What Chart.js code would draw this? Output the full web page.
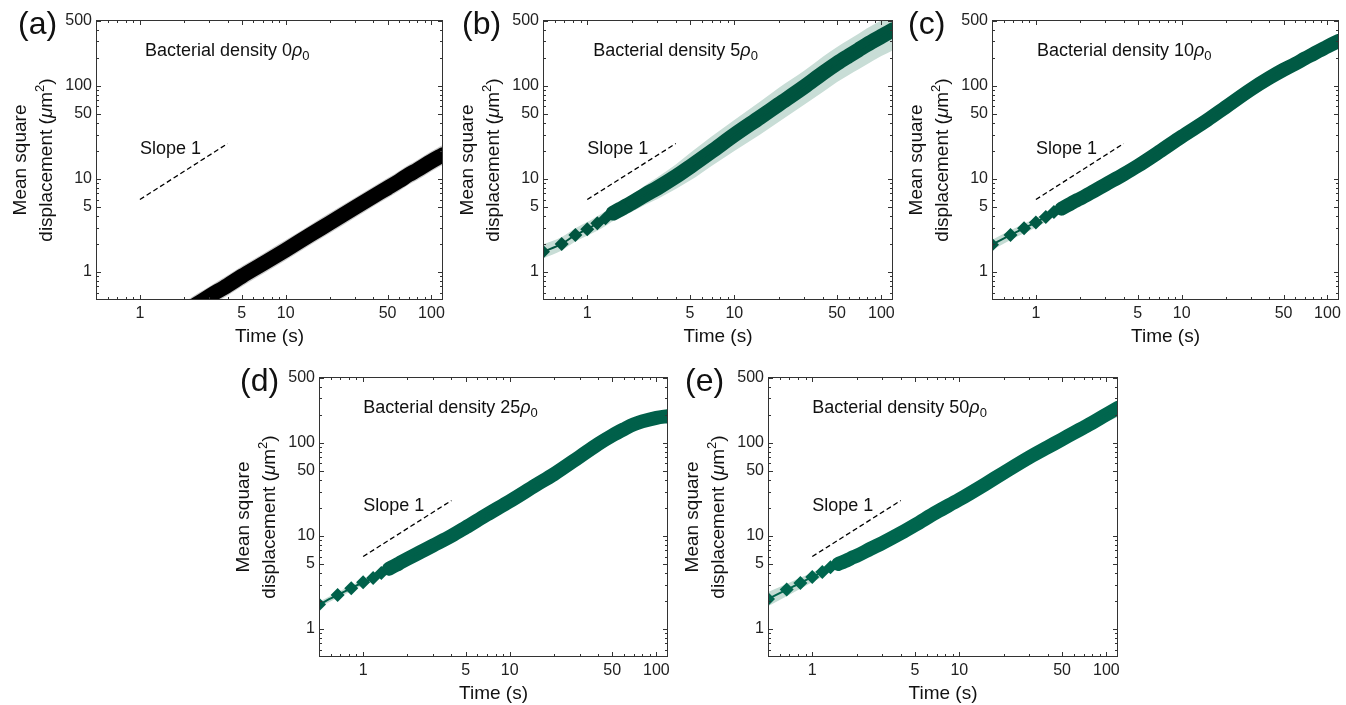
<!DOCTYPE html>
<html><head><meta charset="utf-8">
<script src="https://cdn.jsdelivr.net/npm/chart.js@4.4.1/dist/chart.umd.min.js"></script>
<style>
html,body{margin:0;padding:0;background:#fff;}
#wrap{position:relative;width:1346px;height:705px;overflow:hidden;background:#fff;}
canvas{position:absolute;}
</style></head><body><div id="wrap"></div>
<script>
// ---- data ----
const times = [0.5, 0.67, 0.83, 1, 1.17, 1.33, 1.5, 1.67, 1.83, 2, 2.5, 3, 4, 5, 7, 10, 15, 20, 30, 40, 50, 60, 70, 80, 100, 120];

const msd0 = [null, null, null, null, null, null, null, null, null, 0.37, 0.46, 0.55, 0.72, 0.9, 1.23, 1.72, 2.55, 3.35, 4.95, 6.5, 8.0, 9.5, 11.1, 12.5, 15.5, 18.2];
const lo0  = [null, null, null, null, null, null, null, null, null, 0.29, 0.36, 0.43, 0.56, 0.7, 0.96, 1.34, 1.99, 2.6, 3.85, 5.1, 6.25, 7.4, 8.7, 9.75, 12.1, 14.2];
const hi0  = [null, null, null, null, null, null, null, null, null, 0.47, 0.59, 0.7, 0.92, 1.15, 1.57, 2.2, 3.26, 4.3, 6.3, 8.3, 10.2, 12.2, 14.2, 16, 19.8, 23.3];

const msd5 = [1.65, 2.0, 2.5, 2.88, 3.34, 3.78, 4.3, 4.7, 5.1, 5.5, 6.8, 8.0, 10.6, 13.5, 19.7, 29.7, 46, 63, 98, 137, 175, 210, 244, 278, 340, 400];
const lo5  = [1.4, 1.7, 2.12, 2.45, 2.78, 3.12, 3.52, 3.8, 4.1, 4.4, 5.3, 6.1, 7.8, 9.6, 13.8, 20, 30, 41, 63, 86, 110, 131, 151, 171, 209, 242];
const hi5  = [1.98, 2.38, 2.95, 3.45, 3.98, 4.5, 5.15, 5.65, 6.2, 6.75, 8.6, 10.4, 14.3, 19, 28.6, 43, 68, 95, 146, 205, 261, 313, 362, 416, 508, 605];

const msd10 = [1.96, 2.5, 2.95, 3.41, 3.9, 4.4, 4.8, 5.25, 5.7, 6.1, 7.4, 8.7, 11.2, 13.8, 19.5, 28.5, 43, 59, 92, 122, 149, 172, 197, 220, 265, 305];
const lo10  = [1.72, 2.2, 2.6, 3.0, 3.45, 3.9, 4.25, 4.65, 5.05, 5.4, 6.6, 7.8, 10.1, 12.5, 17.7, 26, 39, 53.5, 83, 110, 133, 152, 173, 192, 228, 258];
const hi10  = [2.2, 2.8, 3.3, 3.8, 4.35, 4.9, 5.35, 5.85, 6.35, 6.8, 8.2, 9.6, 12.3, 15.1, 21.3, 31, 47, 64.5, 101, 135, 166, 193, 222, 250, 303, 350];

const msd25 = [1.83, 2.32, 2.74, 3.18, 3.53, 4.0, 4.45, 4.85, 5.25, 5.66, 6.8, 7.9, 10.0, 12.3, 17.0, 23.6, 35, 46, 71, 97, 120, 140, 158, 170, 186, 194];
const lo25  = [1.7, 2.16, 2.55, 2.96, 3.28, 3.72, 4.14, 4.5, 4.88, 5.26, 6.32, 7.35, 9.3, 11.4, 15.8, 21.9, 32.5, 42.8, 66, 90, 112, 130, 147, 158, 173, 180];
const hi25  = [1.96, 2.48, 2.93, 3.4, 3.78, 4.28, 4.76, 5.19, 5.62, 6.06, 7.28, 8.45, 10.7, 13.2, 18.2, 25.3, 37.5, 49.2, 76, 104, 128, 150, 169, 182, 199, 208];

const msd50 = [2.1, 2.65, 3.12, 3.62, 4.1, 4.6, 5.0, 5.35, 5.75, 6.1, 7.3, 8.4, 10.7, 13.1, 18, 24.6, 36, 47.6, 70, 90, 109, 128, 146, 164, 202, 238];
const lo50  = [1.75, 2.25, 2.7, 3.2, 3.65, 4.1, 4.5, 4.85, 5.2, 5.5, 6.6, 7.65, 9.8, 12.0, 16.4, 22, 32, 42, 61, 78, 94, 108, 124, 138, 168, 190];
const hi50  = [2.5, 3.05, 3.55, 4.05, 4.55, 5.1, 5.5, 5.85, 6.3, 6.7, 8.0, 9.15, 11.6, 14.2, 19.6, 27.2, 40, 53.5, 79, 102, 124, 147, 168, 192, 236, 288];

const slopeX = [1, 4];
const slopeY = [6, 24];

const xMajor = [1, 5, 10, 50, 100];
const xMinor = [0.6, 0.7, 0.8, 0.9, 2, 3, 4, 6, 7, 8, 9, 20, 30, 40, 60, 70, 80, 90];
const yMajor = [1, 5, 10, 50, 100, 500];
const yMinor = [0.6, 0.7, 0.8, 0.9, 2, 3, 4, 6, 7, 8, 9, 20, 30, 40, 60, 70, 80, 90, 200, 300, 400];

const densities = ['0', '5', '10', '25', '50'];
const panelLetters = ['(a)', '(b)', '(c)', '(d)', '(e)'];
const xTitle = 'Time (s)';
const yTitle1 = 'Mean square';
const yTitle2 = ['displacement (', 'μ', 'm', '2', ')'];
const slopeText = 'Slope 1';
const densityText = 'Bacterial density ';

// ---- layout / style ----
const FONT = '"Liberation Sans", Arial, Helvetica, sans-serif';
const panels = [
  {msd: msd0,  lo: lo0,  hi: hi0,  color: '#000000', band: '#c9c9c9', box: [0, 0, 450, 352],   area: [96, 20, 446, 300], textDx: 5, labelDx: -78, lw: 15},
  {msd: msd5,  lo: lo5,  hi: hi5,  color: '#00543f', band: '#c8ddd6', box: [450, 0, 450, 352], area: [93, 20, 445, 300], textDx: 6, labelDx: -81, lw: 15},
  {msd: msd10, lo: lo10, hi: hi10, color: '#005a44', band: '#c4dbd3', box: [900, 0, 446, 352], area: [92, 20, 443, 300], textDx: 1, labelDx: -84, lw: 14},
  {msd: msd25, lo: lo25, hi: hi25, color: '#00604a', band: '#c4dbd3', box: [220, 355, 455, 350], area: [99, 22, 450, 302], textDx: 0, labelDx: -79, lw: 14},
  {msd: msd50, lo: lo50, hi: hi50, color: '#00664e', band: '#c4dbd3', box: [680, 355, 450, 350], area: [88, 22, 438, 302], textDx: 0, labelDx: -83, lw: 14}
];

function pts(arr, from) {
  return times.map((t, i) => ({x: t, y: (i >= (from || 0)) ? arr[i] : null}));
}

function rich(ctx, parts, x, y, align) {
  let total = 0;
  parts.forEach(p => { ctx.font = p.font; p.w = ctx.measureText(p.t).width; total += p.w; });
  let cx = align === 'center' ? x - total / 2 : x;
  ctx.textAlign = 'left';
  parts.forEach(p => { ctx.font = p.font; ctx.fillText(p.t, cx, y + (p.dy || 0)); cx += p.w; });
}

function decor(idx) {
  const p = panels[idx];
  return {
    id: 'decor' + idx,
    afterDraw(chart) {
      const ctx = chart.ctx, a = chart.chartArea, xs = chart.scales.x, ys = chart.scales.y;
      ctx.save();
      ctx.strokeStyle = '#333'; ctx.lineWidth = 1;
      ctx.strokeRect(a.left + 0.5, a.top + 0.5, a.right - a.left - 1, a.bottom - a.top - 1);
      ctx.beginPath();
      xMajor.concat(xMinor).forEach(v => {
        const px = Math.round(xs.getPixelForValue(v)) + 0.5;
        if (px <= a.left + 1 || px >= a.right - 1) return;
        const len = xMajor.includes(v) ? 5 : 3;
        ctx.moveTo(px, a.bottom); ctx.lineTo(px, a.bottom - len);
        ctx.moveTo(px, a.top); ctx.lineTo(px, a.top + len);
      });
      yMajor.concat(yMinor).forEach(v => {
        const py = Math.round(ys.getPixelForValue(v)) + 0.5;
        if (py <= a.top + 1 || py >= a.bottom - 1) return;
        const len = yMajor.includes(v) ? 5 : 3;
        ctx.moveTo(a.left, py); ctx.lineTo(a.left + len, py);
        ctx.moveTo(a.right, py); ctx.lineTo(a.right - len, py);
      });
      ctx.stroke();

      ctx.fillStyle = '#111';
      ctx.textBaseline = 'alphabetic';
      const x1 = xs.getPixelForValue(1);
      rich(ctx, [
        {t: densityText + densities[idx], font: '18px ' + FONT},
        {t: 'ρ', font: 'italic 18px ' + FONT},
        {t: '0', font: '13px ' + FONT, dy: 4}
      ], x1 + p.textDx, a.top + 36, 'left');
      rich(ctx, [{t: slopeText, font: '18px ' + FONT}], x1, a.top + 134, 'left');
      rich(ctx, [{t: xTitle, font: '19px ' + FONT}], (a.left + a.right) / 2, a.bottom + 42, 'center');
      rich(ctx, [{t: panelLetters[idx], font: '32px ' + FONT}], a.left + p.labelDx, a.top + 14, 'left');
      const cy = (a.top + a.bottom) / 2;
      ctx.save();
      ctx.translate(a.left - 70, cy); ctx.rotate(-Math.PI / 2);
      rich(ctx, [{t: yTitle1, font: '19px ' + FONT}], 0, 0, 'center');
      ctx.restore();
      ctx.save();
      ctx.translate(a.left - 44, cy); ctx.rotate(-Math.PI / 2);
      rich(ctx, [
        {t: yTitle2[0], font: '19px ' + FONT},
        {t: yTitle2[1], font: 'italic 19px ' + FONT},
        {t: yTitle2[2], font: '19px ' + FONT},
        {t: yTitle2[3], font: '13px ' + FONT, dy: -8},
        {t: yTitle2[4], font: '19px ' + FONT}
      ], 0, 0, 'center');
      ctx.restore();
      ctx.restore();
    }
  };
}

const wrap = document.getElementById('wrap');
panels.forEach((p, idx) => {
  const cv = document.createElement('canvas');
  cv.width = p.box[2]; cv.height = p.box[3];
  cv.style.left = p.box[0] + 'px'; cv.style.top = p.box[1] + 'px';
  cv.style.width = p.box[2] + 'px'; cv.style.height = p.box[3] + 'px';
  wrap.appendChild(cv);
  new Chart(cv.getContext('2d'), {
    type: 'line',
    data: {
      datasets: [
        {data: pts(p.lo), borderWidth: 0, pointRadius: 0, fill: false, cubicInterpolationMode: 'monotone', order: 5},
        {data: pts(p.hi), borderWidth: 0, pointRadius: 0, fill: '-1', backgroundColor: p.band, cubicInterpolationMode: 'monotone', order: 4},
        {data: pts(p.msd, 6), borderColor: p.color, borderWidth: p.lw, pointRadius: 0, fill: false,
         cubicInterpolationMode: 'monotone', borderJoinStyle: 'round', borderCapStyle: 'round', order: 2},
        {data: pts(p.msd), borderColor: p.color, backgroundColor: p.color, borderWidth: 2, fill: false,
         cubicInterpolationMode: 'monotone', pointStyle: 'rectRot', pointBorderWidth: 0,
         pointRadius: (c) => (c.raw && c.raw.x <= 2.01 ? 7 : 0), order: 1},
        {data: slopeX.map((v, i) => ({x: v, y: slopeY[i]})), borderColor: '#000', borderWidth: 1.3,
         borderDash: [5, 3], pointRadius: 0, fill: false, order: 0}
      ]
    },
    options: {
      responsive: false, animation: false, devicePixelRatio: 1,
      layout: {padding: {left: 0, top: p.area[1], right: p.box[2] - p.area[2], bottom: 0}},
      plugins: {legend: {display: false}, tooltip: {enabled: false}},
      scales: {
        x: {
          type: 'logarithmic', min: 0.5, max: 120,
          grid: {display: false, drawTicks: false}, border: {display: false},
          afterBuildTicks: (s) => { s.ticks = xMajor.concat(xMinor).sort((a, b) => a - b).map(v => ({value: v})); },
          afterFit: (s) => { s.height = p.box[3] - p.area[3]; },
          ticks: {autoSkip: false, maxRotation: 0, minRotation: 0, padding: 4, color: '#222',
                  font: {family: FONT, size: 16},
                  callback: (v) => (xMajor.includes(v) ? String(v) : '')}
        },
        y: {
          type: 'logarithmic', min: 0.5, max: 510,
          grid: {display: false, drawTicks: false}, border: {display: false},
          afterBuildTicks: (s) => { s.ticks = yMajor.concat(yMinor).sort((a, b) => a - b).map(v => ({value: v})); },
          afterFit: (s) => { s.width = p.area[0]; },
          ticks: {autoSkip: false, padding: 4, color: '#222',
                  font: {family: FONT, size: 16},
                  callback: (v) => (yMajor.includes(v) ? String(v) : '')}
        }
      }
    },
    plugins: [decor(idx)]
  });
});
</script>
</body></html>
